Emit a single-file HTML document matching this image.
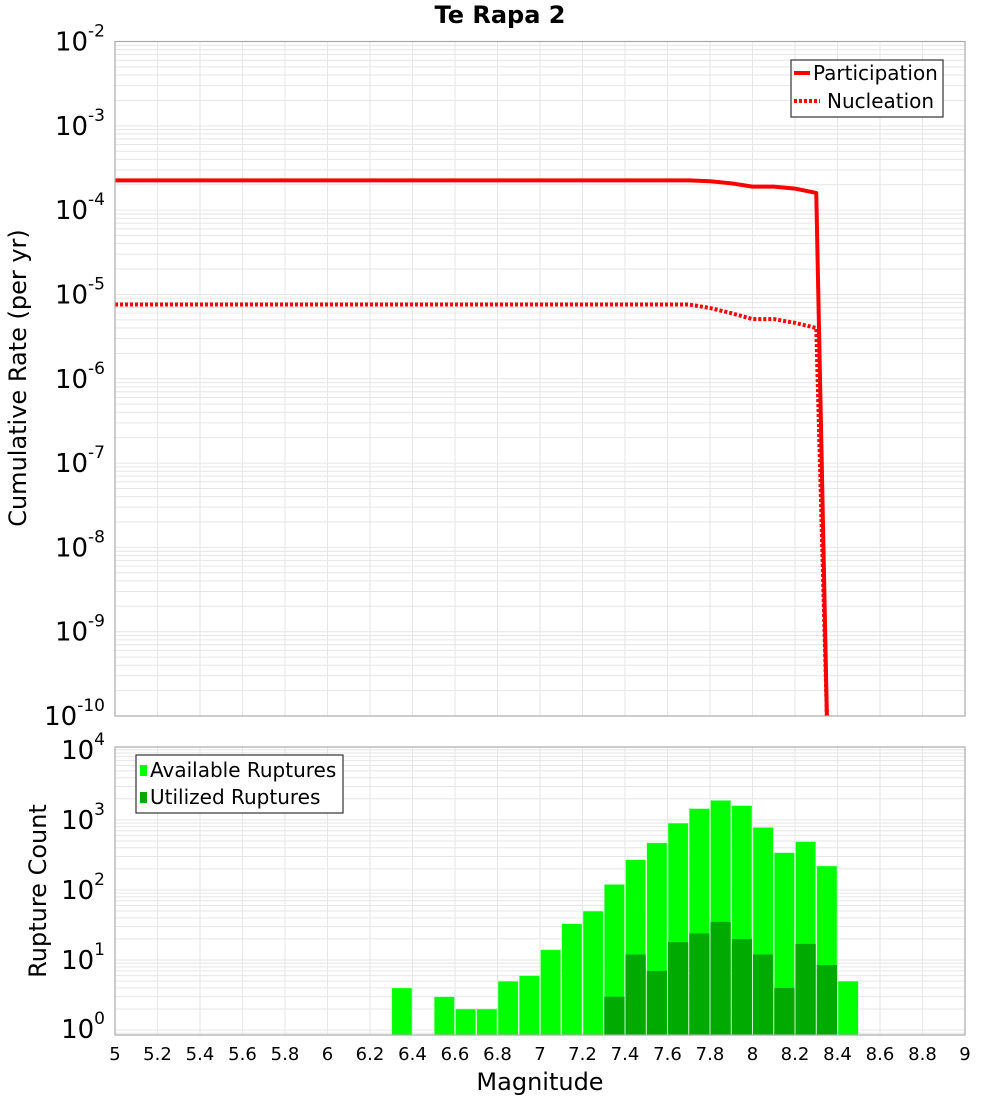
<!DOCTYPE html>
<html><head><meta charset="utf-8"><style>
body{margin:0;background:#fff;}
svg text{font-family:"DejaVu Sans","Liberation Sans",sans-serif;fill:#000;}
</style></head><body>
<svg id="chart" width="1000" height="1100" xmlns="http://www.w3.org/2000/svg">
<g id="topPlot"></g>
<g id="botPlot"></g>
<text x="500" y="23" text-anchor="middle" font-size="24" font-weight="bold">Te Rapa 2</text>
<text transform="translate(26,378) rotate(-90)" text-anchor="middle" font-size="24">Cumulative Rate (per yr)</text>
<text transform="translate(46,891) rotate(-90)" text-anchor="middle" font-size="24">Rupture Count</text>
<text x="540" y="1090" text-anchor="middle" font-size="24">Magnitude</text>
<g>
<rect x="791" y="60" width="152" height="57" fill="#fff" stroke="#333" stroke-width="1.2"/>
<line x1="794" y1="73" x2="810" y2="73" stroke="#f00" stroke-width="4"/>
<text x="813" y="80" font-size="20">Participation</text>
<line x1="794" y1="101" x2="820" y2="101" stroke="#f00" stroke-width="4" stroke-dasharray="3,2"/>
<text x="827" y="108" font-size="20">Nucleation</text>
</g>
<g>
<rect x="136" y="755" width="207" height="58" fill="#fff" stroke="#333" stroke-width="1.2"/>
<rect x="140" y="765" width="7" height="11" fill="#00ff00"/>
<text x="150" y="777" font-size="20">Available Ruptures</text>
<rect x="140" y="792" width="7" height="11" fill="#00aa00"/>
<text x="150" y="804" font-size="20">Utilized Ruptures</text>
</g>
</svg>
<script>
const partMags=[5.0,7.7,7.8,7.9,8.0,8.1,8.2,8.3,8.35];
const partRates=[2.25e-4,2.25e-4,2.2e-4,2.08e-4,1.9e-4,1.9e-4,1.8e-4,1.6e-4,1e-10];
const nuclMags=[5.0,7.7,7.8,7.9,8.0,8.1,8.2,8.3,8.35];
const nuclRates=[7.6e-6,7.6e-6,6.9e-6,6.0e-6,5.1e-6,5.1e-6,4.6e-6,4.0e-6,1e-10];
const binStarts=[6.3,6.5,6.6,6.7,6.8,6.9,7.0,7.1,7.2,7.3,7.4,7.5,7.6,7.7,7.8,7.9,8.0,8.1,8.2,8.3,8.4];
const availCounts=[4,3,2,2,5,6,14,33,50,120,270,470,900,1450,1900,1600,780,340,490,220,5];
const usedCounts=[0,0,0,0,0,0,0,0,0,3,12,7,18,24,35,20,12,4,17,8.5,0];
const xTicks=[5,5.2,5.4,5.6,5.8,6,6.2,6.4,6.6,6.8,7,7.2,7.4,7.6,7.8,8,8.2,8.4,8.6,8.8,9];
const topExps=[-2,-3,-4,-5,-6,-7,-8,-9,-10];
const botExps=[4,3,2,1,0];
(function(){
const NS='http://www.w3.org/2000/svg';
const L=115,R=965;
const xS=m=>L+(m-5)/4*(R-L);
const T1=41.5,B1=716; const yTop=v=>T1+(-2-Math.log10(v))/8*(B1-T1);
const T2=747,B2=1035; const bMax=4.04,bMin=-0.07;
const yBot=v=>T2+(bMax-Math.log10(v))/(bMax-bMin)*(B2-T2);
function mk(p,tag,a){const e=document.createElementNS(NS,tag);for(const k in a)e.setAttribute(k,a[k]);p.appendChild(e);return e;}
function grid(g,T,B,yf,eMin,eMax){
 for(let e=eMin;e<eMax;e++)for(let k=1;k<10;k++){const y=yf(k*Math.pow(10,e));if(y<T-0.1||y>B+0.1)continue;
  const l=mk(g,'line',{x1:L,x2:R,y1:y,y2:y,stroke:'#e6e6e6','stroke-width':1});
  
  }
 xTicks.forEach(t=>{const x=xS(t);const l=mk(g,'line',{x1:x,x2:x,y1:T,y2:B,stroke:'#e6e6e6','stroke-width':1});
  
  });
}
function ylabels(g,exps,yf){exps.forEach(e=>{const y=yf(Math.pow(10,e));
 const t=mk(g,'text',{x:L-10,y:y+9,'text-anchor':'end','font-size':26});
 
 
 t.appendChild(document.createTextNode('10'));
 const s=mk(t,'tspan',{dy:-14,'font-size':17});s.textContent=String(e);});}
const tg=document.getElementById('topPlot');
grid(tg,T1,B1,yTop,-10,-2);
function line(g,mags,vals,dash,name){
 const pts=mags.map((m,i)=>xS(m)+','+yTop(vals[i])).join(' ');
 const a={points:pts,fill:'none',stroke:'#f00','stroke-width':4,'stroke-linejoin':'round'};
 if(dash)a['stroke-dasharray']='3,2';
 const p=mk(g,'polyline',a);
 
 }
const clip=mk(tg,'clipPath',{id:'c1'});mk(clip,'rect',{x:L,y:T1,width:R-L,height:B1-T1});
const lg=mk(tg,'g',{'clip-path':'url(#c1)'});
line(lg,nuclMags,nuclRates,true,'nucleation-line');
line(lg,partMags,partRates,false,'participation-line');
mk(tg,'rect',{x:L,y:T1,width:R-L,height:B1-T1,fill:'none',stroke:'#aaa','stroke-width':1.2});
ylabels(tg,topExps,yTop);
const bg=document.getElementById('botPlot');
grid(bg,T2,B2,yBot,-1,5);
const bw=(R-L)/40;
binStarts.forEach((m,i)=>{
 const x=xS(m);
 const r=mk(bg,'rect',{x:x+0.5,y:yBot(availCounts[i]),width:bw-1,height:B2-yBot(availCounts[i]),fill:'#00ff00',stroke:'#b8ffb8','stroke-width':0.6});
 
 
 if(usedCounts[i]>0){
  const u=mk(bg,'rect',{x:x+0.5,y:yBot(usedCounts[i]),width:bw-1,height:B2-yBot(usedCounts[i]),fill:'#00aa00'});
  
  }
});
mk(bg,'rect',{x:L,y:T2,width:R-L,height:B2-T2,fill:'none',stroke:'#aaa','stroke-width':1.2});
ylabels(bg,botExps,v=>{const y=yBot(v);return Math.min(y,B2-6);});
xTicks.forEach(t=>{const tx=mk(bg,'text',{x:xS(t),y:1060,'text-anchor':'middle','font-size':18});
 
 
 tx.textContent=String(t);});
})();
</script>
</body></html>
